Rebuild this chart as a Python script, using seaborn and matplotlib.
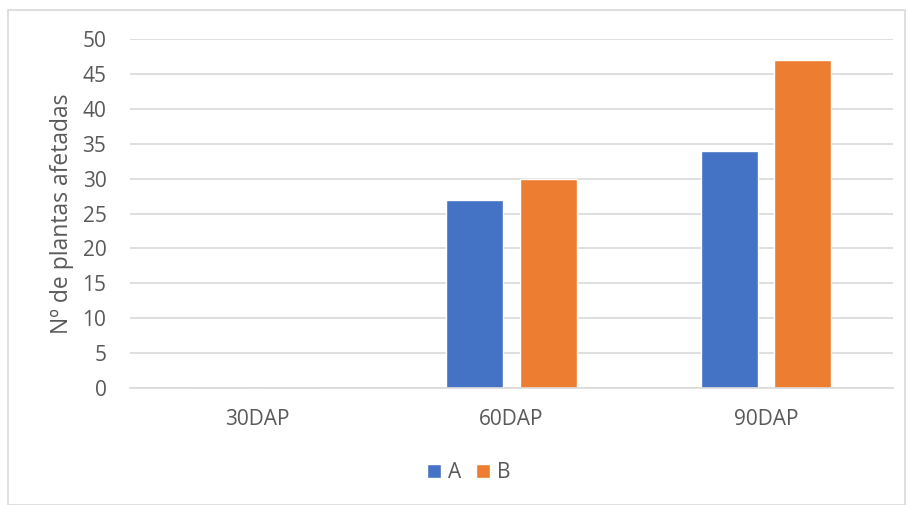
import matplotlib
matplotlib.use("Agg")
import matplotlib.pyplot as plt
import seaborn as sns
import pandas as pd
from matplotlib.patches import Rectangle

categories = ["30DAP", "60DAP", "90DAP"]
series_names = ["A", "B"]
values_A = [0, 27, 34]
values_B = [0, 30, 47]
y_ticks = [0, 5, 10, 15, 20, 25, 30, 35, 40, 45, 50]
colors = ["#4472C4", "#ED7D31"]

df = pd.DataFrame({
    "cat": categories * 2,
    "serie": ["A"] * 3 + ["B"] * 3,
    "val": values_A + values_B,
})

sns.set_theme(style="white")
plt.rcParams["font.family"] = ["Open Sans", "DejaVu Sans"]

fig = plt.figure(figsize=(9.09, 5.05), dpi=100)
ax = fig.add_axes([130 / 909, 1 - 388 / 505, (893 - 130) / 909, (388 - 39) / 505])

sns.barplot(data=df, x="cat", y="val", hue="serie", order=categories,
            hue_order=series_names, palette=colors, width=0.575, gap=0.22,
            saturation=1, ax=ax, legend=True)

ax.set_ylim(0, 50)
ax.set_xlim(-0.5, 2.5)
ax.set_yticks(y_ticks)
ax.yaxis.grid(True, color="#d9d9d9", linewidth=1.2)
ax.set_axisbelow(True)
for s in ["top", "right", "left"]:
    ax.spines[s].set_visible(False)
ax.spines["bottom"].set_color("#d9d9d9")
ax.spines["bottom"].set_linewidth(1.2)
ax.tick_params(axis="both", length=0, labelsize=15, labelcolor="#595959")
ax.tick_params(axis="y", pad=17)
ax.tick_params(axis="x", pad=15)
ax.set_xlabel("")
ax.set_ylabel("Nº de plantas afetadas", fontsize=16.5, color="#595959", labelpad=6)

leg = ax.legend(loc="center", bbox_to_anchor=(469 / 909, 1 - 473 / 505),
                bbox_transform=fig.transFigure, ncol=2, frameon=False,
                fontsize=15, handlelength=0.68, handleheight=0.68,
                handletextpad=0.34, columnspacing=0.7)
for t in leg.get_texts():
    t.set_color("#595959")

fig.patches.append(Rectangle((8 / 909, 0), (905 - 8) / 909, 1 - 10 / 505,
                             transform=fig.transFigure, fill=False,
                             edgecolor="#d9d9d9", linewidth=1.2))

fig.savefig("out.png", dpi=100)
